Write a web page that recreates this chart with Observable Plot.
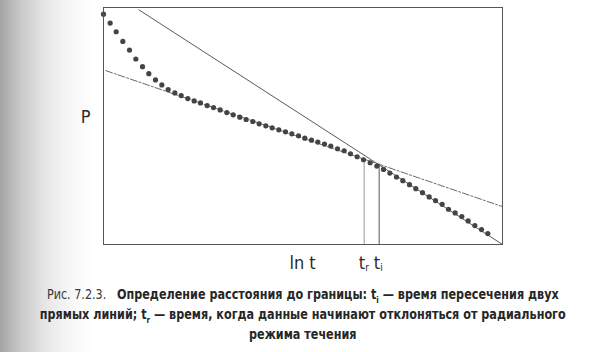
<!DOCTYPE html>
<html>
<head>
<meta charset="utf-8">
<script src="https://cdn.jsdelivr.net/npm/d3@7"></script>
<script src="https://cdn.jsdelivr.net/npm/@observablehq/plot@0.6"></script>
<style>
  html, body { margin: 0; padding: 0; }
  body {
    width: 606px; height: 352px; overflow: hidden;
    background: linear-gradient(to right, #a4a4a4 0px, #c8c8c8 20px, #e6e6e6 45px, #f7f7f7 70px, #ffffff 95px);
    font-family: "Liberation Sans Narrow", "Arial Narrow", "DejaVu Sans Condensed", sans-serif;
  }
  #chart svg { display: block; background: transparent !important; }
  #caption {
    width: 606px; text-align: center; color: #262626;
    font-size: 14px; line-height: 20px; margin-top: 2px; white-space: nowrap;
    transform: scaleX(0.89); transform-origin: 301px 0;
  }
  #caption .fig { font-weight: normal; color: #3a3a3a; }
  #caption b { font-weight: bold; }
  #caption sub { font-size: 9px; line-height: 0; }
</style>
</head>
<body>
<div id="chart"></div>
<div id="caption"></div>
<script>
const lnT = [0.00,0.20,0.38,0.58,0.78,0.97,1.17,1.36,1.56,1.75,1.94,2.14,2.33,2.53,2.72,2.91,3.11,3.30,3.50,3.70,
             3.89,4.09,4.28,4.48,4.67,4.87,5.06,5.26,5.46,5.65,5.85,6.04,6.24,6.43,6.63,6.82,7.02,7.22,7.41,7.61,
             7.80,8.00,8.20,8.40,8.59,8.79,8.98,9.18,9.37,9.57,9.77,9.96,10.16,10.35,10.55,10.75,10.94,11.14,11.34,11.53];
const pressure = [6.93,6.66,6.40,6.11,5.85,5.58,5.35,5.14,4.95,4.80,4.66,4.56,4.48,4.39,4.32,4.26,4.18,4.12,4.05,3.97,
                  3.90,3.83,3.76,3.70,3.63,3.57,3.51,3.45,3.39,3.33,3.27,3.20,3.14,3.08,3.02,2.96,2.88,2.82,2.73,2.64,
                  2.55,2.46,2.36,2.26,2.15,2.03,1.92,1.80,1.68,1.56,1.43,1.32,1.21,1.06,0.95,0.84,0.71,0.57,0.45,0.33];

// straight line of the radial flow regime (shallow) and of the boundary-affected regime (steep)
const radialLnT = [0.07, 11.97];
const radialP = [5.23, 1.14];
const boundaryLnT = [1.06, 11.97];
const boundaryP = [7.06, 0.00];

// marker times
const markerNames = ["r", "i"];
const markerLnT = [7.82, 8.27];
const markerTop = [2.55, 2.42];

const xDomain = [0, 11.97];
const yDomain = [0, 7.13];
const xLabel = "ln t";
const yLabel = "P";
const xLabelPos = 5.97;
const yLabelPos = 3.82;

const points = lnT.map((x, i) => ({x, y: pressure[i]}));
const radial = radialLnT.map((x, i) => ({x, y: radialP[i]}));
const boundary = boundaryLnT.map((x, i) => ({x, y: boundaryP[i]}));
const markers = markerNames.map((n, i) => ({n, x: markerLnT[i], top: markerTop[i]}));

const font = '"Liberation Sans Narrow", "Arial Narrow", "DejaVu Sans Condensed", sans-serif';

const chart = Plot.plot({
  width: 606, height: 282,
  marginLeft: 103, marginRight: 104, marginTop: 7, marginBottom: 38,
  style: {background: "transparent", fontFamily: font, color: "#2a2a2a"},
  x: {domain: xDomain, axis: null},
  y: {domain: yDomain, axis: null},
  marks: [
    Plot.ruleX(markers, {x: "x", y1: 0, y2: "top", stroke: d => d.n === "r" ? "#9a9a9a" : "#555", strokeWidth: 1}),
    Plot.line(boundary, {x: "x", y: "y", stroke: "#5a5a5a", strokeWidth: 1}),
    Plot.line(radial, {x: "x", y: "y", stroke: "#6a6a6a", strokeWidth: 1, strokeDasharray: "7,2,2,2"}),
    Plot.dot(points, {x: "x", y: "y", r: 2.6, fill: "#444", stroke: "none"}),
    Plot.frame({stroke: "#555", strokeWidth: 1}),
    Plot.text([yLabel], {x: xDomain[0], y: yLabelPos, text: d => d, dx: -18, fontSize: 18, textAnchor: "middle", fill: "#2a2a2a", clip: false}),
    Plot.text([xLabel], {x: xLabelPos, y: yDomain[0], text: d => d, dy: 19, fontSize: 18, textAnchor: "middle", fill: "#2a2a2a"}),
    Plot.text(markers, {x: "x", y: yDomain[0], text: () => "t", dy: 19, dx: 1, fontSize: 18, textAnchor: "end", fill: "#2a2a2a"}),
    Plot.text(markers, {x: "x", y: yDomain[0], text: "n", dy: 23, dx: 1, fontSize: 10, textAnchor: "start", fill: "#2a2a2a"})
  ]
});
document.getElementById("chart").appendChild(chart);

document.getElementById("caption").innerHTML =
  '<span class="fig">Рис. 7.2.3.</span>&nbsp;&nbsp; <b>Определение расстояния до границы: t<sub>i</sub> — время пересечения двух</b><br>' +
  '<b>прямых линий; t<sub>r</sub> — время, когда данные начинают отклоняться от радиального</b><br>' +
  '<b>режима течения</b>';
</script>
</body>
</html>
